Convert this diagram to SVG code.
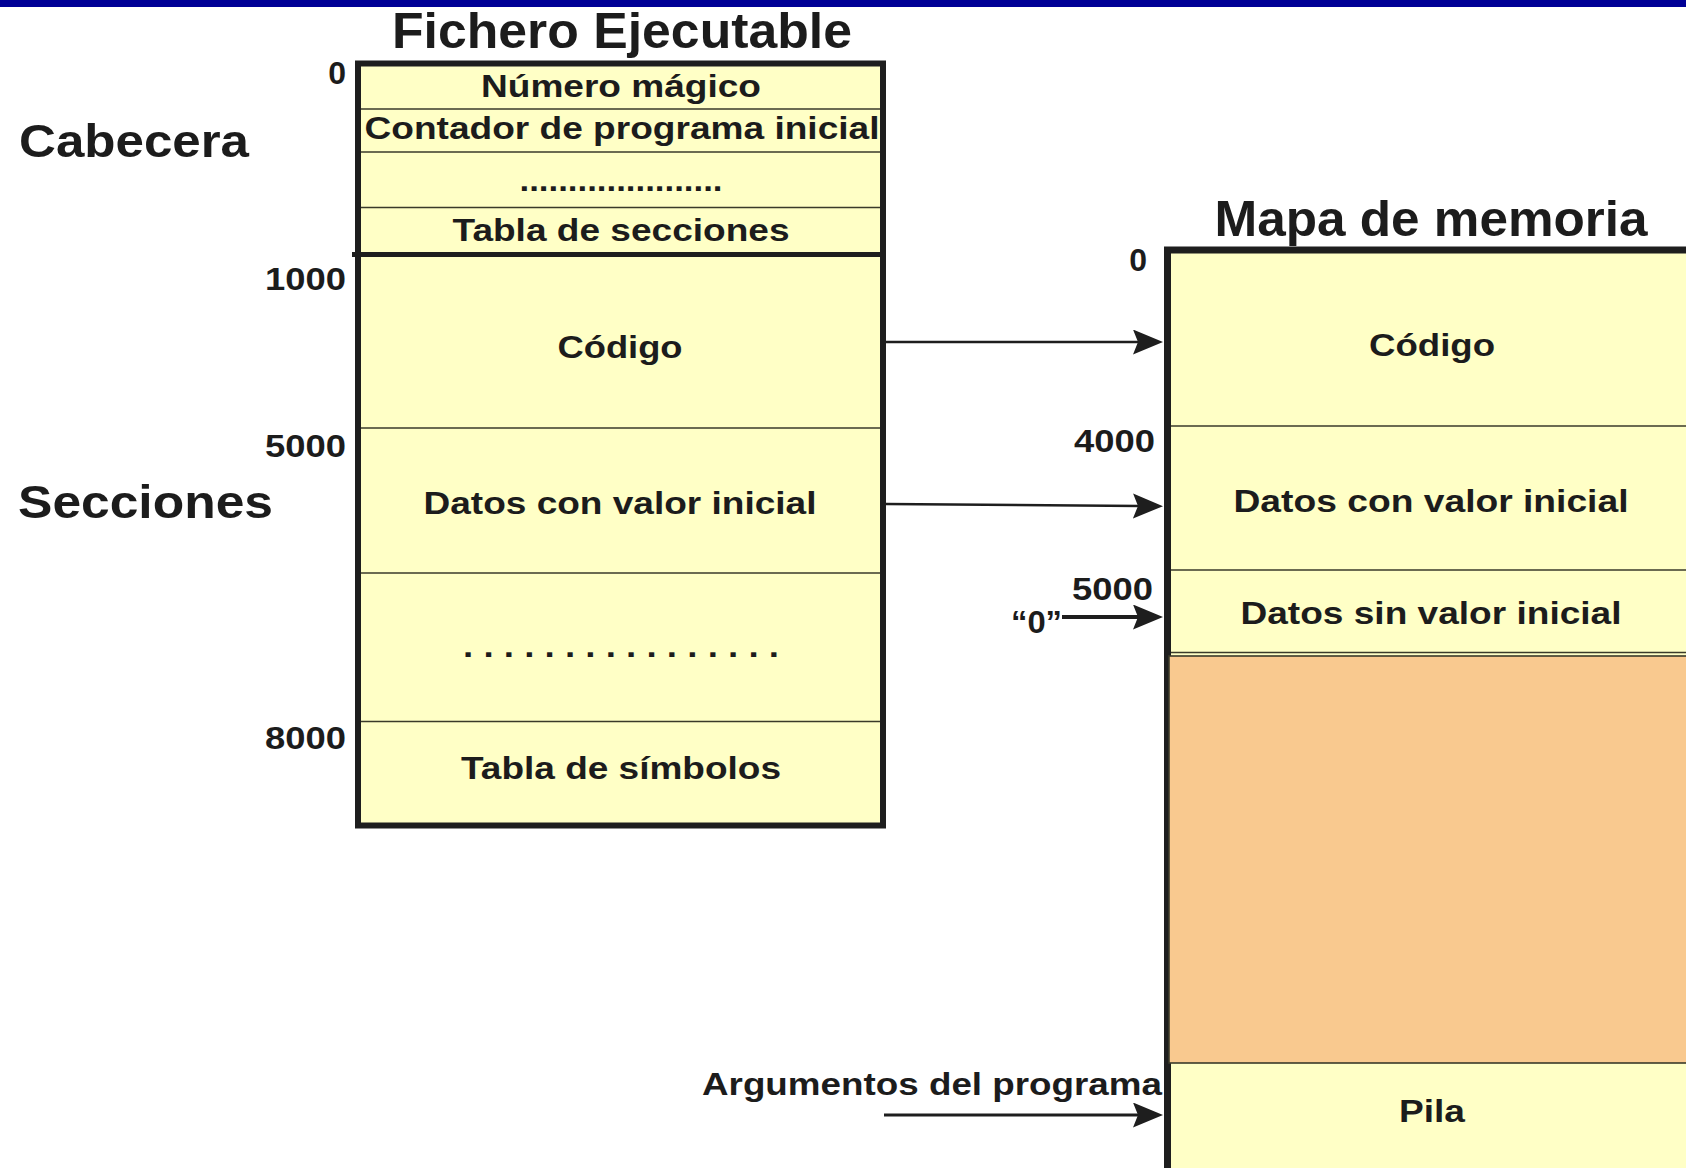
<svg xmlns="http://www.w3.org/2000/svg" width="1686" height="1168" viewBox="0 0 1686 1168">
<defs>
<style>
text{font-family:"Liberation Sans",Arial,sans-serif;font-weight:bold;fill:#1c1c1c}
.t{font-size:50px}
.side{font-size:47px}
.r{font-size:32px;text-anchor:middle}
.n{font-size:32px;text-anchor:end}
.box{fill:#FFFFC6;stroke:#1e1e1e}
.thin{stroke:#3a3a2a;stroke-width:1.6}
.conn{stroke:#1e1e1e;fill:none}
</style>
<marker id="ah" markerUnits="userSpaceOnUse" markerWidth="32" markerHeight="26" refX="7" refY="12.5" orient="auto" viewBox="0 0 32 26">
<path d="M0,0 L30,12.5 L0,25 L5,12.5 Z" fill="#1e1e1e"/>
</marker>
</defs>
<rect x="0" y="0" width="1686" height="1168" fill="#ffffff"/>
<rect x="0" y="0" width="1686" height="7" fill="#000096"/>

<g id="fichero">
<text class="t" x="622" y="48" text-anchor="middle" textLength="460" lengthAdjust="spacingAndGlyphs">Fichero Ejecutable</text>
<rect class="box" x="358" y="63.5" width="525" height="762" stroke-width="6"/>
<line class="thin" x1="361" y1="109" x2="880" y2="109"/>
<line class="thin" x1="361" y1="152" x2="880" y2="152"/>
<line class="thin" x1="361" y1="207.5" x2="880" y2="207.5"/>
<line x1="352" y1="254.5" x2="883" y2="254.5" stroke="#1e1e1e" stroke-width="5"/>
<line class="thin" x1="361" y1="428" x2="880" y2="428"/>
<line class="thin" x1="361" y1="573" x2="880" y2="573"/>
<line class="thin" x1="361" y1="721.5" x2="880" y2="721.5"/>
<text class="r" x="621" y="97" textLength="280" lengthAdjust="spacingAndGlyphs">Número mágico</text>
<text class="r" x="622" y="139" textLength="515" lengthAdjust="spacingAndGlyphs">Contador de programa inicial</text>
<text class="r" x="621" y="191" textLength="203" lengthAdjust="spacingAndGlyphs">.....................</text>
<text class="r" x="621" y="241" textLength="337" lengthAdjust="spacingAndGlyphs">Tabla de secciones</text>
<text class="r" x="620" y="358" textLength="125" lengthAdjust="spacingAndGlyphs">Código</text>
<text class="r" x="620" y="514" textLength="393" lengthAdjust="spacingAndGlyphs">Datos con valor inicial</text>
<text class="r" x="621" y="657" textLength="316" lengthAdjust="spacingAndGlyphs">. . . . . . . . . . . . . . . .</text>
<text class="r" x="621" y="779" textLength="320" lengthAdjust="spacingAndGlyphs">Tabla de símbolos</text>
<text class="n" x="346" y="84">0</text>
<text class="n" x="346" y="290" textLength="81" lengthAdjust="spacingAndGlyphs">1000</text>
<text class="n" x="346" y="457" textLength="81" lengthAdjust="spacingAndGlyphs">5000</text>
<text class="n" x="346" y="749" textLength="81" lengthAdjust="spacingAndGlyphs">8000</text>
</g>

<g id="labels">
<text class="side" x="19" y="157" textLength="230" lengthAdjust="spacingAndGlyphs">Cabecera</text>
<text class="side" x="18" y="518" textLength="255" lengthAdjust="spacingAndGlyphs">Secciones</text>
</g>

<g id="mapa">
<text class="t" x="1431" y="236" text-anchor="middle" textLength="433" lengthAdjust="spacingAndGlyphs">Mapa de memoria</text>
<rect class="box" x="1167.5" y="250" width="540" height="960" stroke-width="7"/>
<line class="thin" x1="1171" y1="426" x2="1690" y2="426"/>
<line class="thin" x1="1171" y1="570" x2="1690" y2="570"/>
<line class="thin" x1="1171" y1="652.5" x2="1690" y2="652.5"/>
<rect x="1169" y="656" width="530" height="407" fill="#F9C98F" stroke="#3a3a2a" stroke-width="1.6"/>
<text class="r" x="1432" y="356" textLength="126" lengthAdjust="spacingAndGlyphs">Código</text>
<text class="r" x="1431" y="512" textLength="395" lengthAdjust="spacingAndGlyphs">Datos con valor inicial</text>
<text class="r" x="1431" y="624" textLength="381" lengthAdjust="spacingAndGlyphs">Datos sin valor inicial</text>
<text class="r" x="1432" y="1122" textLength="66" lengthAdjust="spacingAndGlyphs">Pila</text>
<text class="n" x="1147" y="271">0</text>
<text class="n" x="1155" y="452" textLength="81" lengthAdjust="spacingAndGlyphs">4000</text>
<text class="n" x="1153" y="600" textLength="81" lengthAdjust="spacingAndGlyphs">5000</text>
<text x="1011" y="633" font-size="32" textLength="51" lengthAdjust="spacingAndGlyphs">“0”</text>
<text x="702" y="1095" font-size="32" textLength="460" lengthAdjust="spacingAndGlyphs">Argumentos del programa</text>
</g>

<g id="connectors">
<line class="conn" x1="886" y1="342" x2="1140" y2="342" stroke-width="2.5" marker-end="url(#ah)"/>
<line class="conn" x1="886" y1="504" x2="1140" y2="506" stroke-width="2.5" marker-end="url(#ah)"/>
<line class="conn" x1="1062" y1="617" x2="1140" y2="617" stroke-width="4" marker-end="url(#ah)"/>
<line class="conn" x1="884" y1="1115" x2="1140" y2="1115" stroke-width="3" marker-end="url(#ah)"/>
</g>
</svg>
